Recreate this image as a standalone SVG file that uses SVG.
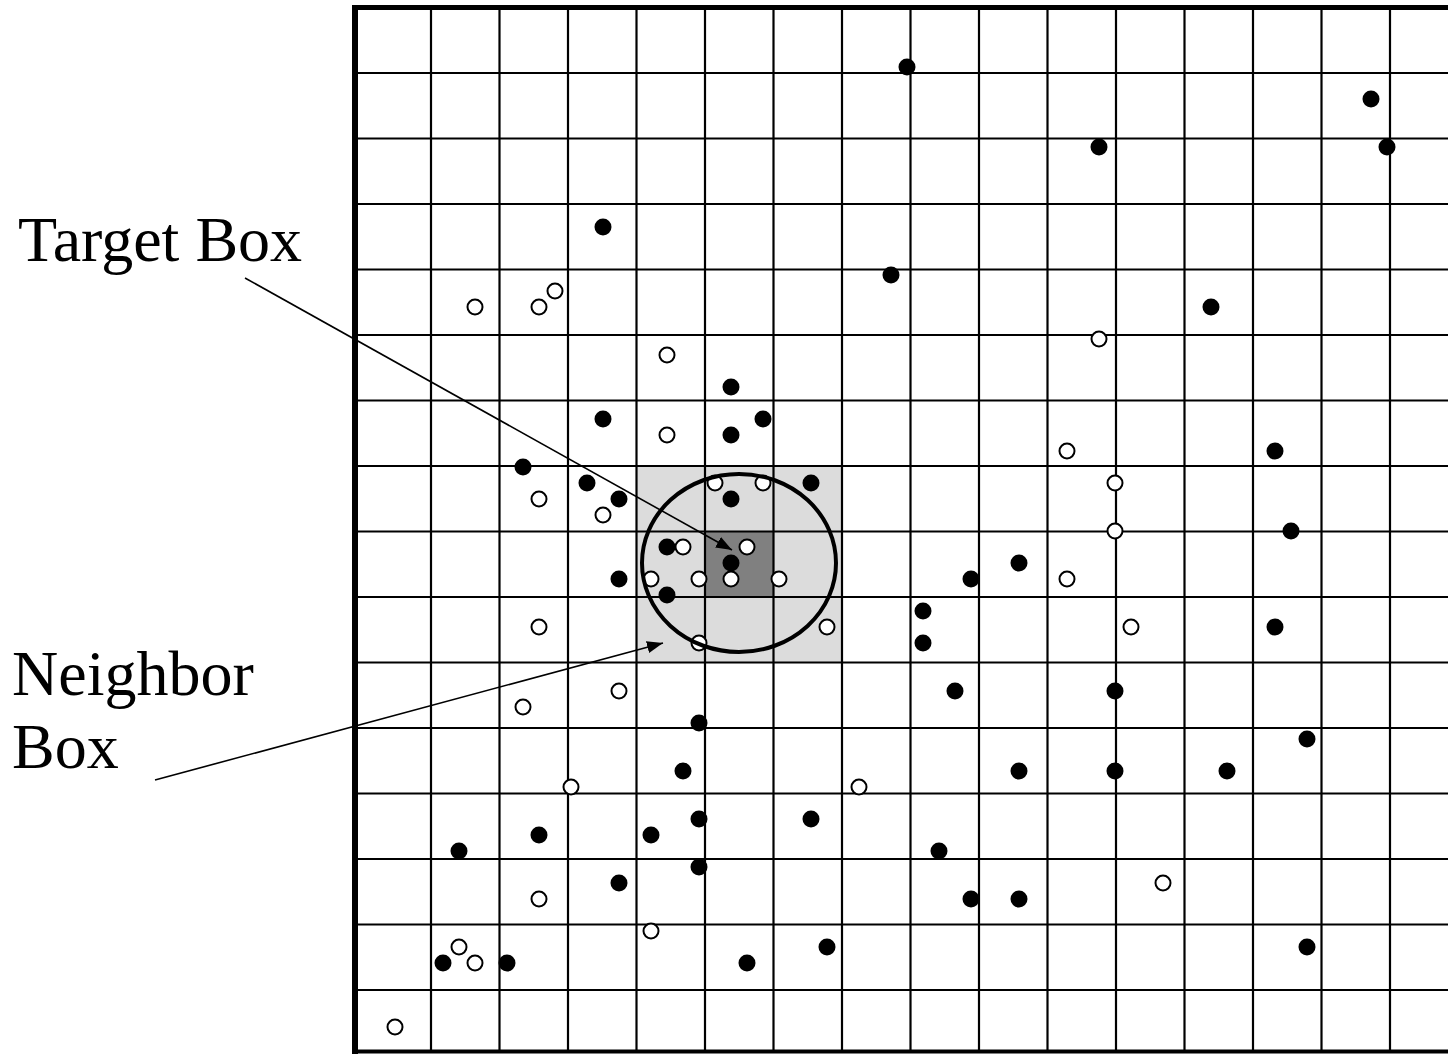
<svg xmlns="http://www.w3.org/2000/svg" width="1448" height="1054" viewBox="0 0 1448 1054">
<style>
.g{stroke:#000;stroke-width:2.2;fill:none}
.b{stroke:#000;fill:none}
.f{fill:#000}
.o{fill:#fff;stroke:#000;stroke-width:2}
.lbl{font-family:"Liberation Serif","Times New Roman",serif;font-size:64px;fill:#000}
.c{stroke:#000;stroke-width:1.6;fill:none}
</style>
<defs>
<marker id="ah" viewBox="0 0 16 12" refX="16" refY="6" markerWidth="16" markerHeight="12" markerUnits="userSpaceOnUse" orient="auto">
<path d="M0,0 L16,6 L0,12 Z" fill="#000"/>
</marker>
</defs>
<rect width="1448" height="1054" fill="#fff"/>
<g id="neighbor-box-region">
<rect x="636.5" y="466" width="205.5" height="196.5" fill="#dcdcdc"/>
</g>
<g id="target-box-region">
<rect x="705" y="531.5" width="68.5" height="65.5" fill="#808080"/>
</g>
<g id="grid">
<g class="g">
<line x1="431" y1="8" x2="431" y2="1052"/>
<line x1="499.5" y1="8" x2="499.5" y2="1052"/>
<line x1="568" y1="8" x2="568" y2="1052"/>
<line x1="636.5" y1="8" x2="636.5" y2="1052"/>
<line x1="705" y1="8" x2="705" y2="1052"/>
<line x1="773.5" y1="8" x2="773.5" y2="1052"/>
<line x1="842" y1="8" x2="842" y2="1052"/>
<line x1="910.5" y1="8" x2="910.5" y2="1052"/>
<line x1="979" y1="8" x2="979" y2="1052"/>
<line x1="1047.5" y1="8" x2="1047.5" y2="1052"/>
<line x1="1116" y1="8" x2="1116" y2="1052"/>
<line x1="1184.5" y1="8" x2="1184.5" y2="1052"/>
<line x1="1253" y1="8" x2="1253" y2="1052"/>
<line x1="1321.5" y1="8" x2="1321.5" y2="1052"/>
<line x1="1390" y1="8" x2="1390" y2="1052"/>
<line x1="355" y1="73" x2="1448" y2="73"/>
<line x1="355" y1="138.5" x2="1448" y2="138.5"/>
<line x1="355" y1="204" x2="1448" y2="204"/>
<line x1="355" y1="269.5" x2="1448" y2="269.5"/>
<line x1="355" y1="335" x2="1448" y2="335"/>
<line x1="355" y1="400.5" x2="1448" y2="400.5"/>
<line x1="355" y1="466" x2="1448" y2="466"/>
<line x1="355" y1="531.5" x2="1448" y2="531.5"/>
<line x1="355" y1="597" x2="1448" y2="597"/>
<line x1="355" y1="662.5" x2="1448" y2="662.5"/>
<line x1="355" y1="728" x2="1448" y2="728"/>
<line x1="355" y1="793.5" x2="1448" y2="793.5"/>
<line x1="355" y1="859" x2="1448" y2="859"/>
<line x1="355" y1="924.5" x2="1448" y2="924.5"/>
<line x1="355" y1="990" x2="1448" y2="990"/>
</g>
<line class="b" x1="352" y1="7.5" x2="1448" y2="7.5" stroke-width="5"/>
<line class="b" x1="352" y1="1051.5" x2="1448" y2="1051.5" stroke-width="4"/>
<line class="b" x1="355" y1="5" x2="355" y2="1054" stroke-width="6"/>
</g>
<g id="filled-points" class="f">
<circle cx="907" cy="67" r="8.5"/>
<circle cx="1371" cy="99" r="8.5"/>
<circle cx="1387" cy="147" r="8.5"/>
<circle cx="1099" cy="147" r="8.5"/>
<circle cx="603" cy="227" r="8.5"/>
<circle cx="891" cy="275" r="8.5"/>
<circle cx="1211" cy="307" r="8.5"/>
<circle cx="731" cy="387" r="8.5"/>
<circle cx="603" cy="419" r="8.5"/>
<circle cx="763" cy="419" r="8.5"/>
<circle cx="731" cy="435" r="8.5"/>
<circle cx="1275" cy="451" r="8.5"/>
<circle cx="523" cy="467" r="8.5"/>
<circle cx="587" cy="483" r="8.5"/>
<circle cx="619" cy="499" r="8.5"/>
<circle cx="731" cy="499" r="8.5"/>
<circle cx="811" cy="483" r="8.5"/>
<circle cx="1291" cy="531" r="8.5"/>
<circle cx="667" cy="547" r="8.5"/>
<circle cx="731" cy="563" r="8.5"/>
<circle cx="619" cy="579" r="8.5"/>
<circle cx="1019" cy="563" r="8.5"/>
<circle cx="971" cy="579" r="8.5"/>
<circle cx="667" cy="595" r="8.5"/>
<circle cx="923" cy="611" r="8.5"/>
<circle cx="923" cy="643" r="8.5"/>
<circle cx="1275" cy="627" r="8.5"/>
<circle cx="955" cy="691" r="8.5"/>
<circle cx="1115" cy="691" r="8.5"/>
<circle cx="699" cy="723" r="8.5"/>
<circle cx="1307" cy="739" r="8.5"/>
<circle cx="683" cy="771" r="8.5"/>
<circle cx="1019" cy="771" r="8.5"/>
<circle cx="1115" cy="771" r="8.5"/>
<circle cx="1227" cy="771" r="8.5"/>
<circle cx="699" cy="819" r="8.5"/>
<circle cx="811" cy="819" r="8.5"/>
<circle cx="539" cy="835" r="8.5"/>
<circle cx="651" cy="835" r="8.5"/>
<circle cx="459" cy="851" r="8.5"/>
<circle cx="939" cy="851" r="8.5"/>
<circle cx="699" cy="867" r="8.5"/>
<circle cx="619" cy="883" r="8.5"/>
<circle cx="971" cy="899" r="8.5"/>
<circle cx="1019" cy="899" r="8.5"/>
<circle cx="827" cy="947" r="8.5"/>
<circle cx="1307" cy="947" r="8.5"/>
<circle cx="443" cy="963" r="8.5"/>
<circle cx="507" cy="963" r="8.5"/>
<circle cx="747" cy="963" r="8.5"/>
</g>
<g id="open-points" class="o">
<circle cx="475" cy="307" r="7.5"/>
<circle cx="539" cy="307" r="7.5"/>
<circle cx="555" cy="291" r="7.5"/>
<circle cx="667" cy="355" r="7.5"/>
<circle cx="1099" cy="339" r="7.5"/>
<circle cx="667" cy="435" r="7.5"/>
<circle cx="1067" cy="451" r="7.5"/>
<circle cx="715" cy="483" r="7.5"/>
<circle cx="763" cy="483" r="7.5"/>
<circle cx="1115" cy="483" r="7.5"/>
<circle cx="539" cy="499" r="7.5"/>
<circle cx="603" cy="515" r="7.5"/>
<circle cx="683" cy="547" r="7.5"/>
<circle cx="747" cy="547" r="7.5"/>
<circle cx="1115" cy="531" r="7.5"/>
<circle cx="651" cy="579" r="7.5"/>
<circle cx="699" cy="579" r="7.5"/>
<circle cx="731" cy="579" r="7.5"/>
<circle cx="779" cy="579" r="7.5"/>
<circle cx="1067" cy="579" r="7.5"/>
<circle cx="539" cy="627" r="7.5"/>
<circle cx="827" cy="627" r="7.5"/>
<circle cx="1131" cy="627" r="7.5"/>
<circle cx="699" cy="643" r="7.5"/>
<circle cx="619" cy="691" r="7.5"/>
<circle cx="523" cy="707" r="7.5"/>
<circle cx="571" cy="787" r="7.5"/>
<circle cx="859" cy="787" r="7.5"/>
<circle cx="1163" cy="883" r="7.5"/>
<circle cx="539" cy="899" r="7.5"/>
<circle cx="651" cy="931" r="7.5"/>
<circle cx="459" cy="947" r="7.5"/>
<circle cx="475" cy="963" r="7.5"/>
<circle cx="395" cy="1027" r="7.5"/>
</g>
<g id="search-radius">
<ellipse cx="739" cy="563" rx="97" ry="89" fill="none" stroke="#000" stroke-width="4"/>
</g>
<g id="label-target-box">
<text class="lbl" x="18" y="261">Target Box</text>
</g>
<g id="label-neighbor-box">
<text class="lbl" x="12" y="695">Neighbor</text>
<text class="lbl" x="12" y="768">Box</text>
</g>
<g id="connectors">
<line class="c" x1="245" y1="278" x2="732" y2="550" marker-end="url(#ah)"/>
<line class="c" x1="155" y1="780" x2="663" y2="643" marker-end="url(#ah)"/>
</g>
</svg>
